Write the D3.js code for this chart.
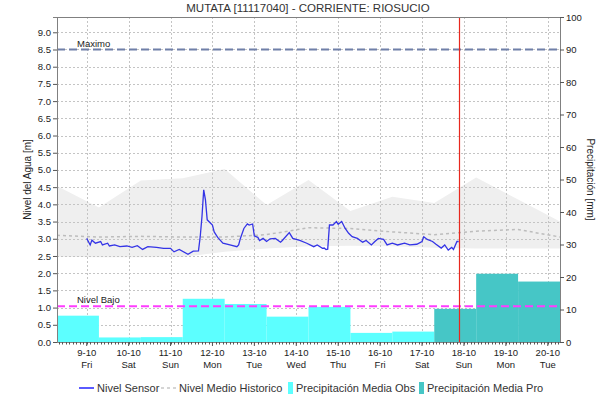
<!DOCTYPE html>
<html>
<head>
<meta charset="utf-8">
<script src="https://cdn.jsdelivr.net/npm/d3@7"></script>
<style>
body{margin:0;background:#fff}
svg{font-family:"Liberation Sans",Arial,sans-serif}
</style>
</head>
<body>
<div id="chart"></div>
<script>
// ---- data ----
const chartTitle = "MUTATA [11117040] - CORRIENTE: RIOSUCIO";
const yLeftTitle = "Nivel del Agua [m]";
const yRightTitle = "Precipitación [mm]";

// precipitation days (each bar runs 07:00 -> 07:00 next day)
const obsDays = ["2020-10-08","2020-10-09","2020-10-10","2020-10-11","2020-10-12","2020-10-13","2020-10-14","2020-10-15","2020-10-16"];
const obsPrecip = [8.1, 1.4, 1.5, 13.3, 11.7, 7.8, 10.8, 2.8, 3.2];
const proDays = ["2020-10-17","2020-10-18","2020-10-19"];
const proPrecip = [10.2, 21.0, 18.6];

// historic level (band + mean), at 07:00 each day
const histDays = ["2020-10-08","2020-10-09","2020-10-10","2020-10-11","2020-10-12","2020-10-13","2020-10-14","2020-10-15","2020-10-16","2020-10-17","2020-10-18","2020-10-19","2020-10-20"];
const histUpper = [4.53, 3.91, 4.69, 4.76, 5.03, 3.98, 4.71, 3.81, 4.22, 4.04, 4.78, 4.14, 3.50];
const histLower = [2.48, 2.46, 2.46, 2.47, 2.62, 2.72, 2.78, 2.80, 2.78, 2.74, 2.72, 2.72, 2.72];
const histMean  = [3.10, 3.05, 3.07, 3.05, 3.05, 3.12, 3.32, 3.30, 3.20, 3.12, 3.22, 3.27, 3.05];

// sensor level, hours after 2020-10-09 00:00
const sensorHours = [0,2,3,5,8,9,12,13,16,19,23,26,29,32,35,40,44,48,50,53,58,61,64,65,66,67,68,69,72,73,75,78,82,86,87,88,90,92,93,95,96,98,99,101,103,105,108,111,112,116,118,122,126,130,132,135,136,137,138,139,141,143,144,146,148,150,152,155,158,160,163,165,167,170,172,175,178,182,185,189,192,193,195,198,200,203,205,207,209,210,212,213];
const sensorLevel = [3.01,2.82,2.96,2.87,2.92,2.82,2.87,2.79,2.82,2.77,2.79,2.75,2.80,2.69,2.77,2.75,2.72,2.72,2.62,2.69,2.55,2.64,2.65,3.06,3.64,4.42,4.13,3.55,3.40,3.20,3.04,2.87,2.82,2.77,2.82,3.01,3.30,3.43,3.40,3.43,3.08,3.04,2.95,3.01,2.92,3.00,3.01,2.90,2.95,3.18,3.01,2.95,2.87,2.77,2.82,2.72,2.73,2.69,2.70,3.40,3.40,3.50,3.42,3.50,3.30,3.16,3.06,3.01,2.90,2.95,2.82,2.92,3.01,2.98,2.82,2.87,2.82,2.87,2.82,2.84,2.92,3.06,2.98,2.92,2.84,2.73,2.82,2.67,2.75,2.69,2.92,2.92];

const levelMaximo = 8.5;
const levelBajo = 1.04;
const nowTime = "2020-10-17 21";
const legendItems = ["Nivel Sensor","Nivel Medio Historico","Precipitación Media Obs","Precipitación Media Pro"];

// ---- chart ----
const W = 616, H = 404;
const m = {t:17, l:57, b:62, r:56};
const w = W - m.l - m.r;
const h = H - m.t - m.b;

const parseDay = d3.timeParse("%Y-%m-%d");
const parseHour = d3.timeParse("%Y-%m-%d %H");
const at7 = s => d3.timeHour.offset(parseDay(s), 7);
const sensorStart = parseDay("2020-10-09");

const scaleX = d3.scaleTime()
	.domain([at7("2020-10-08"), at7("2020-10-20")])
	.range([0, w]);
const scaleL = d3.scaleLinear()
	.domain([0, levelMaximo * 100 / 90])
	.range([h, 0]);
const scaleP = d3.scaleLinear()
	.domain([0, 100])
	.range([h, 0]);

const svg = d3.select("#chart").append("svg")
	.attr("width", W)
	.attr("height", H);

svg.append("text")
	.attr("x", W / 2).attr("y", 12)
	.attr("text-anchor", "middle")
	.style("font-size", "11.5px")
	.attr("fill", "#333")
	.text(chartTitle);

svg.append("defs").append("clipPath").attr("id", "clip")
	.append("rect").attr("width", w).attr("height", h);

const plot = svg.append("g")
	.attr("transform", `translate(${m.l},${m.t})`);
const inner = plot.append("g").attr("clip-path", "url(#clip)");

// historic band
const hist = histDays.map((d, i) => ({t: at7(d), hi: histUpper[i], lo: histLower[i], mean: histMean[i]}));
inner.append("path")
	.datum(hist)
	.attr("fill", "#efefef")
	.attr("d", d3.area().x(d => scaleX(d.t)).y0(d => scaleL(d.lo)).y1(d => scaleL(d.hi)));

// grid
const dayTicks = d3.timeDay.range(parseDay("2020-10-09"), parseDay("2020-10-21"));
const levelTicks = d3.range(0, 9.01, 0.5);
inner.append("g").selectAll("line")
	.data(levelTicks.slice(1))
	.join("line")
	.attr("x1", 0).attr("x2", w)
	.attr("y1", d => Math.round(scaleL(d)) + 0.5).attr("y2", d => Math.round(scaleL(d)) + 0.5)
	.attr("stroke", "#c4c4c4").attr("stroke-dasharray", "2,2");
inner.append("g").selectAll("line")
	.data(dayTicks)
	.join("line")
	.attr("x1", d => Math.round(scaleX(d)) + 0.5).attr("x2", d => Math.round(scaleX(d)) + 0.5)
	.attr("y1", 0).attr("y2", h)
	.attr("stroke", "#c4c4c4").attr("stroke-dasharray", "2,2");

// precipitation bars
const bars = obsDays.map((d, i) => ({t: at7(d), v: obsPrecip[i], c: "#5cffff"}))
	.concat(proDays.map((d, i) => ({t: at7(d), v: proPrecip[i], c: "#46c6c6"})));
inner.append("g").selectAll("rect")
	.data(bars)
	.join("rect")
	.attr("x", d => scaleX(d.t))
	.attr("width", d => scaleX(d3.timeDay.offset(d.t, 1)) - scaleX(d.t))
	.attr("y", d => scaleP(d.v))
	.attr("height", d => h - scaleP(d.v))
	.attr("fill", d => d.c);

// historic mean
inner.append("path")
	.datum(hist)
	.attr("fill", "none")
	.attr("stroke", "#bdbdbd")
	.attr("stroke-width", 1.5)
	.attr("stroke-dasharray", "3,3")
	.attr("d", d3.line().x(d => scaleX(d.t)).y(d => scaleL(d.mean)));

// threshold lines
inner.append("line")
	.attr("x1", 0).attr("x2", w)
	.attr("y1", scaleL(levelMaximo)).attr("y2", scaleL(levelMaximo))
	.attr("stroke", "#6f7fa8").attr("stroke-width", 2).attr("stroke-dasharray", "8,4");
inner.append("line")
	.attr("x1", 0).attr("x2", w)
	.attr("y1", scaleL(levelBajo)).attr("y2", scaleL(levelBajo))
	.attr("stroke", "#ff3cff").attr("stroke-width", 2).attr("stroke-dasharray", "8,4");
plot.append("text")
	.attr("x", 20).attr("y", scaleL(levelMaximo) - 3)
	.style("font-size", "9.5px").attr("fill", "#222")
	.text("Maximo");
plot.append("text")
	.attr("x", 20).attr("y", scaleL(levelBajo) - 3)
	.style("font-size", "9.5px").attr("fill", "#222")
	.text("Nivel Bajo");

// sensor line
const sensor = sensorHours.map((hr, i) => ({t: d3.timeHour.offset(sensorStart, hr), v: sensorLevel[i]}));
inner.append("path")
	.datum(sensor)
	.attr("fill", "none")
	.attr("stroke", "#3434e6")
	.attr("stroke-width", 1.3)
	.attr("d", d3.line().x(d => scaleX(d.t)).y(d => scaleL(d.v)));

// now line
const nowX = Math.round(scaleX(parseHour(nowTime))) + 0.5;
inner.append("line")
	.attr("x1", nowX).attr("x2", nowX)
	.attr("y1", 0).attr("y2", h)
	.attr("stroke", "#e8281e").attr("stroke-width", 1.2);

// axes
const axisL = d3.axisLeft(scaleL).tickValues(levelTicks).tickFormat(d3.format(".1f")).tickSize(4).tickPadding(2);
const axisR = d3.axisRight(scaleP).tickValues(d3.range(0, 101, 10)).tickSize(4).tickPadding(2);
const gL = plot.append("g").call(axisL);
const gR = plot.append("g").attr("transform", `translate(${w},0)`).call(axisR);
[gL, gR].forEach(g => {
	g.select(".domain").attr("stroke", "#808080");
	g.selectAll(".tick line").attr("stroke", "#555");
	g.selectAll("text").style("font-size", "9.5px").attr("fill", "#222")
		.style("font-family", "'Liberation Sans',Arial,sans-serif");
});

// top border
plot.append("line").attr("x1", 0).attr("x2", w).attr("y1", 0.5).attr("y2", 0.5).attr("stroke", "#808080");

// bottom axis with hourly minor ticks
const gX = plot.append("g").attr("transform", `translate(0,${h})`);
gX.append("line").attr("x1", 0).attr("x2", w).attr("y1", 0.5).attr("y2", 0.5).attr("stroke", "#808080");
gX.selectAll(".minor")
	.data(scaleX.ticks(d3.timeHour.every(2)))
	.join("line")
	.attr("class", "minor")
	.attr("x1", d => Math.round(scaleX(d)) + 0.5).attr("x2", d => Math.round(scaleX(d)) + 0.5)
	.attr("y1", 0).attr("y2", 2.5)
	.attr("stroke", "#555");
const fmtDate = d3.timeFormat("%-d-%-m");
const fmtDay = d3.timeFormat("%a");
const lab = gX.selectAll(".lab")
	.data(dayTicks)
	.join("g")
	.attr("class", "lab")
	.attr("transform", d => `translate(${scaleX(d)},0)`);
lab.append("line").attr("y1", 0).attr("y2", 4).attr("stroke", "#555");
lab.append("text").attr("y", 14).attr("text-anchor", "middle")
	.style("font-size", "9.5px").attr("fill", "#222").text(fmtDate);
lab.append("text").attr("y", 25.5).attr("text-anchor", "middle")
	.style("font-size", "9.5px").attr("fill", "#222").text(fmtDay);

// axis titles
svg.append("text")
	.attr("transform", `translate(31,${m.t + h / 2}) rotate(-90)`)
	.attr("text-anchor", "middle")
	.style("font-size", "10px").attr("fill", "#222")
	.text(yLeftTitle);
svg.append("text")
	.attr("transform", `translate(587,${m.t + h / 2}) rotate(90)`)
	.attr("text-anchor", "middle")
	.style("font-size", "10px").attr("fill", "#222")
	.text(yRightTitle);

// legend
const legend = svg.append("g").attr("transform", "translate(0,388)");
const lx = [79, 161, 288, 419];
legend.append("line").attr("x1", lx[0]).attr("x2", lx[0] + 15).attr("y1", 0).attr("y2", 0)
	.attr("stroke", "#0000ff").attr("stroke-width", 1.3);
legend.append("line").attr("x1", lx[1]).attr("x2", lx[1] + 15).attr("y1", 0).attr("y2", 0)
	.attr("stroke", "#c8c8c8").attr("stroke-width", 1.3).attr("stroke-dasharray", "3,3");
legend.append("rect").attr("x", lx[2]).attr("y", -6).attr("width", 5).attr("height", 12).attr("fill", "#5cffff");
legend.append("rect").attr("x", lx[3]).attr("y", -6).attr("width", 5).attr("height", 12).attr("fill", "#46c6c6");
legend.selectAll("text")
	.data(legendItems)
	.join("text")
	.attr("x", (d, i) => lx[i] + (i < 2 ? 18 : 8))
	.attr("y", 4)
	.style("font-size", "11px").attr("fill", "#333")
	.text(d => d);
</script>
</body>
</html>
